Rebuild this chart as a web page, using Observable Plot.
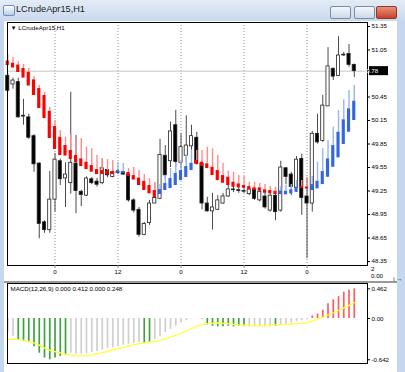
<!DOCTYPE html>
<html><head><meta charset="utf-8">
<script src="https://cdn.jsdelivr.net/npm/d3@7"></script>
<script src="https://cdn.jsdelivr.net/npm/@observablehq/plot@0.6"></script>
<style>
html,body{margin:0;padding:0;}
body{width:405px;height:372px;overflow:hidden;position:relative;background:#c5d7ee;font-family:"Liberation Sans",Arial,sans-serif;}
#title{position:absolute;left:0;top:0;width:405px;height:21px;background:linear-gradient(#e3ecf7,#c9d9ee);}
#title .txt{position:absolute;left:16px;top:4px;font:9.2px "Liberation Sans",Arial,sans-serif;color:#1b1b1b;}
#icon{position:absolute;left:3px;top:5px;width:10px;height:9px;border:1px solid #6d8fb8;background:linear-gradient(#ffffff,#b8cde8);border-radius:2px;}
.btn{position:absolute;top:6px;width:19px;height:11px;border:1px solid #7b8ca5;border-radius:2px;background:linear-gradient(#f4f7fb,#cdd9e8);}
#bmin{left:330px}#bmax{left:354px}
#bclose{left:376px;width:19px;background:linear-gradient(#e8917a,#c8432a);border-color:#8a3a2a;}
#client{position:absolute;left:4px;top:21px;width:393px;height:351px;background:#fff;}
#sep{position:absolute;left:4px;top:281px;width:393px;height:2px;background:#9a9a9a;}
#main,#macd{position:absolute;left:0;}
#main{top:22px}#macd{top:283px}
.sub{position:absolute;left:371px;font:6.2px "Liberation Sans",Arial,sans-serif;color:#000;line-height:6px;}
</style></head>
<body>
<div id="title"><div id="icon"></div><div class="txt">LCrudeApr15,H1</div>
<div class="btn" id="bmin"></div><div class="btn" id="bmax"></div><div class="btn" id="bclose"></div></div>
<div id="client"></div>
<div id="sep"></div>
<div id="main"></div>
<div id="macd"></div>
<div class="sub" style="top:266px">2</div>
<div class="sub" style="top:273px">0.00</div>
<script>
// ---------- DATA ----------
const symbolLabel = "LCrudeApr15,H1";
const open  = [50.72,50.61,50.64,50.21,50.19,49.95,49.60,48.85,48.75,49.14,49.63,49.41,49.35,49.60,49.24,49.19,49.40,49.37,49.35,49.52,49.43,49.49,49.49,49.46,49.13,49.01,48.69,48.84,49.09,49.15,49.70,49.63,50.09,49.61,49.70,49.82,49.93,49.60,49.09,48.99,49.01,49.09,49.18,49.26,49.26,49.24,49.21,49.27,49.13,49.18,49.00,49.19,49.00,49.54,49.46,49.29,49.66,49.18,49.09,49.98,49.89,50.33,50.81,50.72,50.99,51.00,50.86];
const high  = [50.75,50.69,50.69,50.42,50.23,49.97,49.61,48.87,49.50,49.73,49.66,49.61,50.51,49.96,49.26,49.43,49.42,49.41,49.66,49.55,49.52,49.52,49.50,49.51,49.15,49.04,48.85,49.13,49.34,49.91,49.83,50.13,50.28,49.98,50.21,50.09,50.00,49.63,49.17,49.22,49.19,49.22,49.32,49.31,49.30,49.30,49.28,49.30,49.27,49.23,49.26,49.23,49.63,49.55,49.49,49.69,49.72,49.41,50.01,50.23,50.47,51.08,50.82,51.22,51.02,51.12,50.87];
const low   = [50.52,50.55,50.18,50.09,49.91,49.49,48.64,48.71,48.71,48.98,49.32,49.04,49.21,48.96,49.05,49.18,49.33,49.30,49.33,49.42,49.42,49.46,49.45,49.11,48.97,48.66,48.68,48.81,49.09,49.14,49.41,49.55,49.55,49.54,49.61,49.77,49.58,49.01,48.98,48.75,49.00,49.08,49.17,49.23,49.22,49.22,49.19,49.13,49.11,49.02,48.98,48.87,48.98,49.33,49.19,49.23,48.94,48.39,48.98,49.85,49.87,50.33,50.66,50.71,50.97,50.83,50.70];
const close = [50.53,50.66,50.19,50.20,49.93,49.59,48.83,48.75,49.14,49.65,49.40,49.46,49.61,49.25,49.20,49.41,49.35,49.33,49.54,49.45,49.49,49.48,49.46,49.13,49.00,48.69,48.83,49.09,49.16,49.71,49.45,50.01,49.62,49.81,49.83,49.95,49.60,49.09,48.99,49.04,49.13,49.18,49.27,49.27,49.25,49.25,49.27,49.15,49.24,49.04,49.19,48.98,49.55,49.43,49.30,49.65,49.16,49.09,49.98,49.87,50.34,50.84,50.71,50.98,50.98,50.86,50.78];

const haTop    = [50.909,50.881,50.858,50.814,50.766,50.669,50.558,50.469,50.268,50.073,49.936,49.83,49.767,49.703,49.66,49.617,49.575,49.524,49.511,49.505,49.498,49.511,49.498,49.486,49.447,49.415,49.374,49.32,49.256,49.268,49.345,49.409,49.473,49.511,49.562,49.604,49.639,49.617,49.597,49.553,49.511,49.447,49.426,49.362,49.341,49.32,49.307,49.29,49.29,49.265,49.256,49.247,49.25,49.247,49.265,49.298,49.307,49.30,49.332,49.374,49.498,49.66,49.83,50.0,50.159,50.299,50.396];
const haBottom = [50.852,50.82,50.763,50.692,50.59,50.469,50.303,50.175,49.92,49.78,49.703,49.696,49.652,49.613,49.562,49.524,49.49,49.46,49.46,49.46,49.46,49.479,49.473,49.435,49.39,49.32,49.256,49.214,49.166,49.205,49.256,49.281,49.32,49.383,49.422,49.511,49.588,49.562,49.537,49.447,49.383,49.349,49.32,49.298,49.29,49.285,49.265,49.256,49.247,49.221,49.214,49.205,49.205,49.201,49.214,49.234,49.281,49.275,49.256,49.277,49.332,49.425,49.553,49.673,49.843,50.0,50.15];
const haWick   = [50.992,50.954,50.903,50.865,50.814,50.711,50.597,50.507,50.316,50.15,50.022,49.936,49.971,49.894,49.92,49.809,49.788,49.703,49.664,49.652,49.639,49.613,49.601,49.537,49.55,49.511,49.46,49.409,49.358,49.332,49.447,49.537,49.601,49.639,49.703,49.767,49.767,49.767,49.809,49.788,49.703,49.604,49.502,49.49,49.447,49.435,49.362,49.362,49.349,49.332,49.307,49.298,49.307,49.32,49.332,49.383,49.383,49.425,49.435,49.617,49.788,49.894,50.064,50.277,50.414,50.533,50.597];
const haColor  = "RRRRRRRRRRRRRRRRRRRRRBBRRRRRRBBBBBBBRRRRRRRRRRRRRRRRBBBBRRBBBBBBBBB".split("");

const macdHist = [-0.21,-0.28,-0.335,-0.36,-0.375,-0.44,-0.54,-0.615,-0.642,-0.615,-0.59,-0.565,-0.54,-0.555,-0.555,-0.55,-0.53,-0.515,-0.49,-0.465,-0.45,-0.44,-0.415,-0.40,-0.39,-0.375,-0.39,-0.375,-0.325,-0.285,-0.22,-0.17,-0.12,-0.075,-0.035,-0.008,-0.004,-0.02,-0.10,-0.12,-0.13,-0.13,-0.12,-0.13,-0.12,-0.13,-0.13,-0.13,-0.13,-0.13,-0.13,-0.12,-0.10,-0.09,-0.07,-0.05,-0.035,-0.02,0.04,0.07,0.13,0.23,0.29,0.34,0.41,0.44,0.462];
const macdColor = "GGNNNNNNNNNNGGGGGGGGGGGGGGNNGGGGGGGGGGNNNNNNNNGGGGGNGGGGGGRRRRRRRRR".split("").map(c => c === "N" ? "green" : c === "G" ? "grey" : "red");
const macdSignal = [-0.32,-0.325,-0.33,-0.34,-0.355,-0.38,-0.415,-0.46,-0.495,-0.515,-0.535,-0.555,-0.57,-0.58,-0.58,-0.58,-0.57,-0.55,-0.53,-0.51,-0.49,-0.47,-0.45,-0.43,-0.41,-0.39,-0.38,-0.365,-0.355,-0.34,-0.315,-0.29,-0.26,-0.225,-0.19,-0.155,-0.12,-0.095,-0.08,-0.075,-0.07,-0.075,-0.08,-0.09,-0.10,-0.105,-0.11,-0.11,-0.11,-0.11,-0.105,-0.10,-0.095,-0.09,-0.085,-0.08,-0.075,-0.065,-0.04,-0.01,0.02,0.055,0.09,0.125,0.165,0.205,0.248];
const macdHeader = "MACD(12,26,9) 0.000 0.412 0.000 0.248";

const priceTicks = [51.35,51.05,50.45,50.15,49.85,49.55,49.25,48.95,48.65,48.35];
const lastPrice = 50.78;
const timeTickBars = [9,21,33,45,57];
const timeTickLabels = ["0","12","0","12","0"];
const macdTicks = [0.462, 0, -0.642];
const macdTickLabels = ["0.462","0.00","-0.642"];

// ---------- BUILD ----------
const N = close.length;
const candles = d3.range(N).map(i => ({i, o: open[i], h: high[i], l: low[i], c: close[i]}));
const ha = d3.range(N).map(i => ({i, t: haTop[i], b: haBottom[i], w: haWick[i], col: haColor[i]}));
const hist = d3.range(N).map(i => ({i, v: macdHist[i], col: macdColor[i]}));
const sig = d3.range(N).map(i => ({i, s: macdSignal[i]}));
const xDomain = [-0.05, 68.52];
const font = {fontFamily: "'Liberation Sans', Arial, sans-serif", fontSize: "6.2px", background: "transparent", color: "#000", overflow: "visible"};
const half = 0.3;

const main = Plot.plot({
  width: 405, height: 261,
  marginLeft: 7, marginRight: 38, marginTop: 0, marginBottom: 18,
  x: {domain: xDomain},
  y: {domain: [48.299, 51.401]},
  style: font,
  marks: [
    Plot.ruleX(timeTickBars, {stroke: "#7f91a6", strokeDasharray: "1,2", strokeWidth: 1}),
    Plot.ruleY([lastPrice], {stroke: "#c4c4c4"}),
    Plot.ruleX(candles, {x: "i", y1: "l", y2: "h", stroke: "#4a4a4a", strokeWidth: 1}),
    Plot.rect(candles, {x1: d => d.i - half, x2: d => d.i + half, y1: "o", y2: "c",
      fill: d => d.c >= d.o ? "#ffffff" : "#000000", stroke: "#222", strokeWidth: 0.8}),
    Plot.ruleX(ha, {x: "i", y1: "t", y2: "w", stroke: d => d.col === "R" ? "#ff8c8c" : "#9bb2f2", strokeWidth: 1.4}),
    Plot.rect(ha, {x1: d => d.i - half, x2: d => d.i + half, y1: "b", y2: "t",
      fill: d => d.col === "R" ? "#ff0000" : "#3466e2"}),
    Plot.frame({stroke: "#000"}),
    Plot.axisX({ticks: timeTickBars, tickFormat: d => timeTickLabels[timeTickBars.indexOf(d)], tickSize: 3, tickPadding: 1, stroke: "#888"}),
    Plot.axisY({anchor: "right", ticks: priceTicks, tickFormat: d => d.toFixed(2), tickSize: 2, tickPadding: 2}),
    Plot.text(["▼ " + symbolLabel], {frameAnchor: "top-left", dx: 3, dy: 3, textAnchor: "start", fill: "#000"})
  ]
});
document.getElementById("main").appendChild(main);

// current price label, placed with Plot's own y scale
{
  const svg = d3.select(main);
  const yPix = main.scale("y").apply(lastPrice);
  const xPix = main.scale("x").range[1];
  svg.append("line").attr("x1", xPix).attr("x2", xPix + 2).attr("y1", yPix).attr("y2", yPix).attr("stroke", "#000");
  svg.append("rect").attr("x", xPix + 2).attr("y", yPix - 4.5).attr("width", 19).attr("height", 9).attr("fill", "#000");
  svg.append("text").attr("x", xPix + 3.5).attr("y", yPix + 2.2).attr("fill", "#fff")
    .attr("font-size", "6.2px").attr("font-family", "'Liberation Sans', Arial, sans-serif").text(lastPrice.toFixed(2));
}

const macd = Plot.plot({
  width: 405, height: 89,
  marginLeft: 7, marginRight: 38, marginTop: 0, marginBottom: 9,
  x: {domain: xDomain, axis: null},
  y: {domain: [-0.70, 0.545], axis: null},
  style: font,
  marks: [
    Plot.ruleX(hist, {x: "i", y1: 0, y2: "v", stroke: d => d.col === "green" ? "#3fa23f" : d.col === "red" ? "#ff5e5e" : "#cfcfcf", strokeWidth: 1.7}),
    Plot.line(sig, {x: "i", y: "s", stroke: "#ffff3a", strokeWidth: 1.3}),
    Plot.frame({stroke: "#000"}),
    Plot.axisY({anchor: "right", ticks: macdTicks, tickFormat: d => macdTickLabels[macdTicks.indexOf(d)], tickSize: 2, tickPadding: 2}),
    Plot.text([macdHeader], {frameAnchor: "top-left", dx: 3, dy: 3, textAnchor: "start", fill: "#000"})
  ]
});
document.getElementById("macd").appendChild(macd);
</script>
</body></html>
